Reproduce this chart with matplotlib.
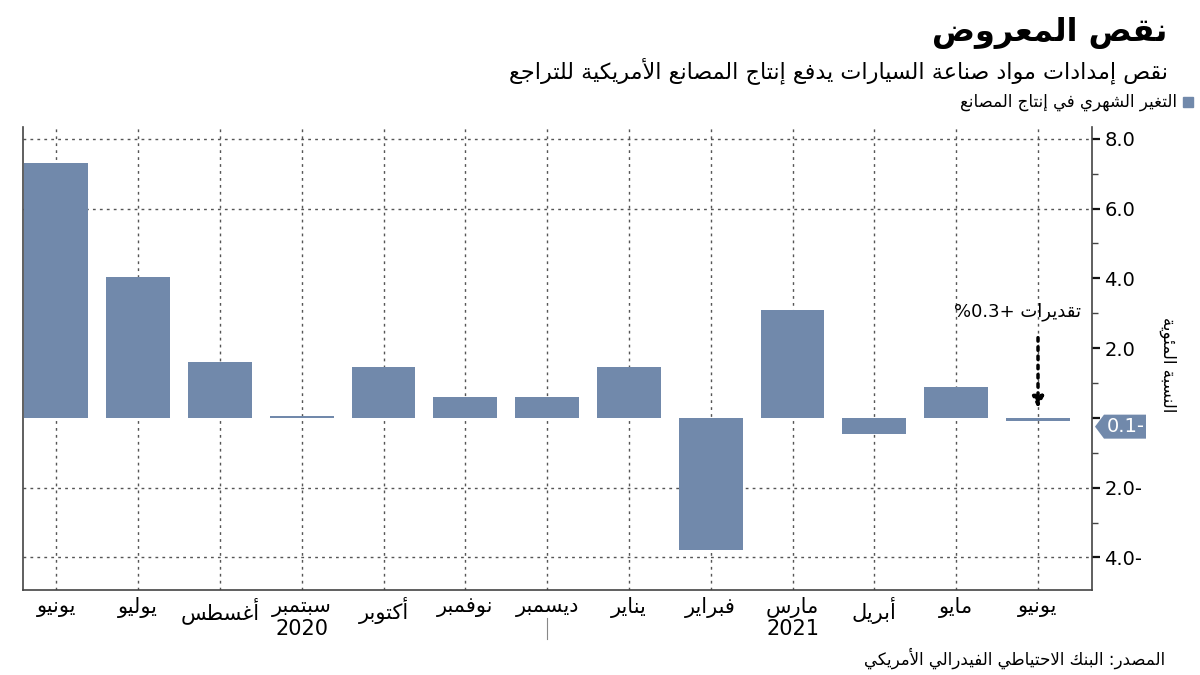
import matplotlib
matplotlib.use("Agg")
import matplotlib.pyplot as plt
import matplotlib.transforms as mtransforms
from matplotlib.patches import Polygon

# --- minimal Arabic shaping (presentation forms + right-to-left order) ---
DUAL = {'ئ': 0xFE89, 'ب': 0xFE8F, 'ت': 0xFE95, 'ث': 0xFE99, 'ج': 0xFE9D, 'ح': 0xFEA1,
        'خ': 0xFEA5, 'س': 0xFEB1, 'ش': 0xFEB5, 'ص': 0xFEB9, 'ض': 0xFEBD, 'ط': 0xFEC1,
        'ظ': 0xFEC5, 'ع': 0xFEC9, 'غ': 0xFECD, 'ف': 0xFED1, 'ق': 0xFED5, 'ك': 0xFED9,
        'ل': 0xFEDD, 'م': 0xFEE1, 'ن': 0xFEE5, 'ه': 0xFEE9, 'ي': 0xFEF1}
RIGHT = {'آ': 0xFE81, 'أ': 0xFE83, 'ؤ': 0xFE85, 'إ': 0xFE87, 'ا': 0xFE8D, 'ة': 0xFE93,
         'د': 0xFEA9, 'ذ': 0xFEAB, 'ر': 0xFEAD, 'ز': 0xFEAF, 'و': 0xFEED, 'ى': 0xFEEF}
LAMALEF = {'آ': 0xFEF5, 'أ': 0xFEF7, 'إ': 0xFEF9, 'ا': 0xFEFB}


def ar(s):
    toks = []
    i = 0
    while i < len(s):
        if s[i] == 'ل' and i + 1 < len(s) and s[i + 1] in LAMALEF:
            toks.append(('LA', s[i + 1]))
            i += 2
        else:
            toks.append(('C', s[i]))
            i += 1
    out = []
    for k, (kind, c) in enumerate(toks):
        prev = toks[k - 1] if k > 0 else None
        nxt = toks[k + 1] if k + 1 < len(toks) else None
        pj = prev is not None and prev[0] == 'C' and prev[1] in DUAL
        if kind == 'LA':
            out.append(chr(LAMALEF[c] + int(pj)))
        elif c in DUAL:
            nj = nxt is not None and (nxt[0] == 'LA' or nxt[1] in DUAL or nxt[1] in RIGHT)
            out.append(chr(DUAL[c] + {(0, 0): 0, (1, 0): 1, (0, 1): 2, (1, 1): 3}[(int(pj), int(nj))]))
        elif c in RIGHT:
            out.append(chr(RIGHT[c] + int(pj)))
        else:
            out.append(c)
    return ''.join(out)[::-1]


# --- data ---
months = ['يونيو', 'يوليو', 'أغسطس', 'سبتمبر', 'أكتوبر', 'نوفمبر', 'ديسمبر',
          'يناير', 'فبراير', 'مارس', 'أبريل', 'مايو', 'يونيو']
change = [7.3, 4.05, 1.6, 0.06, 1.47, 0.59, 0.59, 1.45, -3.78, 3.1, -0.47, 0.88, -0.1]
years = ['2020', '2021']
year_pos = [3, 9]
ytick_vals = [8, 6, 4, 2, 0, -2, -4]
ytick_labels = ['8.0', '6.0', '4.0', '2.0', '', '2.0-', '4.0-']
grid_vals = [8, 6, -2, -4]
last_label = '0.1-'
estimate_label = '%0.3+ ' + ar('تقديرات')

bar_color = '#7189ab'
plt.rcParams['font.family'] = ['DejaVu Sans']

fig = plt.figure(figsize=(12, 6.75), dpi=100)
ax = fig.add_axes([0.019, 0.126, 0.891, 0.686])

x = list(range(len(months)))
for xi in x:
    ax.axvline(xi, color='#555555', lw=1, ls=(0, (2, 3)), zorder=0)
for g in grid_vals:
    ax.axhline(g, color='#555555', lw=1, ls=(0, (2, 3)), zorder=0)
ax.bar(x, change, width=0.78, color=bar_color, zorder=2)

ax.set_xlim(-0.41, 12.66)
ax.set_ylim(-4.93, 8.34)

ax.spines['top'].set_visible(False)
for s in ['left', 'bottom', 'right']:
    ax.spines[s].set_color('#444444')
    ax.spines[s].set_linewidth(1.2)

ax.yaxis.tick_right()
ax.set_yticks(ytick_vals)
ax.set_yticklabels(ytick_labels, fontsize=14)
ax.set_yticks([7, 5, 3, 1, -1, -3], minor=True)
ax.tick_params(axis='y', which='major', length=6, width=1.6, color='#111111', pad=3)
ax.tick_params(axis='y', which='minor', length=4, width=1, color='#444444')

ax.set_xticks(x)
ax.set_xticklabels([ar(m) for m in months], fontsize=15)
ax.tick_params(axis='x', length=0, pad=5)

trans = mtransforms.blended_transform_factory(ax.transData, ax.transAxes)
for yr, p in zip(years, year_pos):
    ax.text(p, -0.085, yr, transform=trans, ha='center', va='center', fontsize=15)
ax.plot([6, 6], [-0.06, -0.105], transform=trans, color='#888888', lw=0.8, clip_on=False)

# highlighted last value on the axis (pentagon tag pointing at the axis)
anchor = mtransforms.blended_transform_factory(ax.transAxes, ax.transData)
tag_tr = fig.dpi_scale_trans + mtransforms.ScaledTranslation(1.0, change[-1] - 0.15, anchor)
tag = Polygon([(0.03, 0), (0.12, 0.12), (0.54, 0.12), (0.54, -0.12), (0.12, -0.12)],
              closed=True, transform=tag_tr, facecolor=bar_color, edgecolor='none', clip_on=False)
ax.add_artist(tag)
ax.annotate(last_label, xy=(1.0, change[-1] - 0.15), xycoords=anchor,
            xytext=(24.5, 0), textcoords='offset points', ha='center', va='center',
            fontsize=14, color='white')

# estimate annotation
ax.annotate('', xy=(12, 0.28), xytext=(12, 2.3),
            arrowprops=dict(arrowstyle='-|>', lw=2.5, ls=':', color='black',
                            mutation_scale=16, shrinkA=0, shrinkB=0))
ax.text(11.75, 3.05, estimate_label, ha='center', va='center', fontsize=13)

# titles, legend, source
fig.text(0.973, 0.951, ar('نقص المعروض'), ha='right', va='center', fontsize=23, fontweight='bold')
fig.text(0.973, 0.896, ar('نقص إمدادات مواد صناعة السيارات يدفع إنتاج المصانع الأمريكية للتراجع'),
         ha='right', va='center', fontsize=16)
fig.patches.append(plt.Rectangle((0.986, 0.841), 0.0085, 0.015, transform=fig.transFigure,
                                 color=bar_color))
fig.text(0.981, 0.849, ar('التغير الشهري في إنتاج المصانع'), ha='right', va='center', fontsize=12)
fig.text(0.971, 0.025, ar('المصدر: البنك الاحتياطي الفيدرالي الأمريكي'),
         ha='right', va='center', fontsize=12)
fig.text(0.973, 0.46, ar('النسبة المئوية'), ha='center', va='center', fontsize=12, rotation=270)

fig.savefig('out.png', dpi=100, facecolor='white')
